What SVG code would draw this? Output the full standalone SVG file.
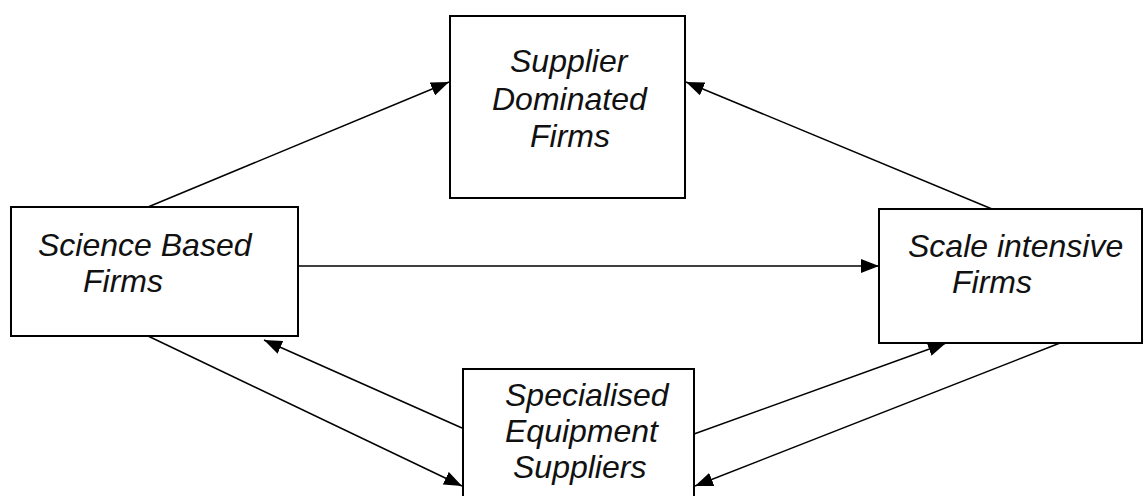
<svg xmlns="http://www.w3.org/2000/svg" width="1145" height="496" viewBox="0 0 1145 496">
<style>
.box{fill:#fff;stroke:#000;stroke-width:2}
.lbl{font-family:"Liberation Sans",Arial,sans-serif;font-style:italic;font-size:32px;fill:#111}
.c{fill:none;stroke:#000;stroke-width:1.5;marker-end:url(#ah)}
</style>
<defs>
<marker id="ah" markerUnits="userSpaceOnUse" markerWidth="20" markerHeight="14" refX="18" refY="7" orient="auto">
<path d="M0,0 L18,7 L0,14 Z" fill="#000"/>
</marker>
</defs>
<g id="connectors">
<line class="c" x1="148" y1="207" x2="449" y2="82"/>
<line class="c" x1="992" y1="209" x2="686" y2="82"/>
<line class="c" x1="298" y1="266" x2="879" y2="266"/>
<line class="c" x1="148" y1="336" x2="462" y2="486"/>
<line class="c" x1="462" y1="428" x2="264" y2="340"/>
<line class="c" x1="694" y1="434" x2="946" y2="343"/>
<line class="c" x1="1060" y1="343" x2="695" y2="486"/>
</g>
<g id="supplier-dominated">
<rect class="box" x="450" y="16" width="235" height="182"/>
<text class="lbl" x="510" y="72">Supplier</text>
<text class="lbl" x="492" y="110">Dominated</text>
<text class="lbl" x="530" y="147">Firms</text>
</g>
<g id="science-based">
<rect class="box" x="11" y="207" width="287" height="129"/>
<text class="lbl" x="38" y="256">Science Based</text>
<text class="lbl" x="83" y="292">Firms</text>
</g>
<g id="scale-intensive">
<rect class="box" x="879" y="209" width="263" height="134"/>
<text class="lbl" x="908" y="257">Scale intensive</text>
<text class="lbl" x="952" y="293">Firms</text>
</g>
<g id="specialised-suppliers">
<rect class="box" x="463" y="369" width="231" height="140"/>
<text class="lbl" x="505" y="406">Specialised</text>
<text class="lbl" x="505" y="442">Equipment</text>
<text class="lbl" x="513" y="478">Suppliers</text>
</g>
</svg>
